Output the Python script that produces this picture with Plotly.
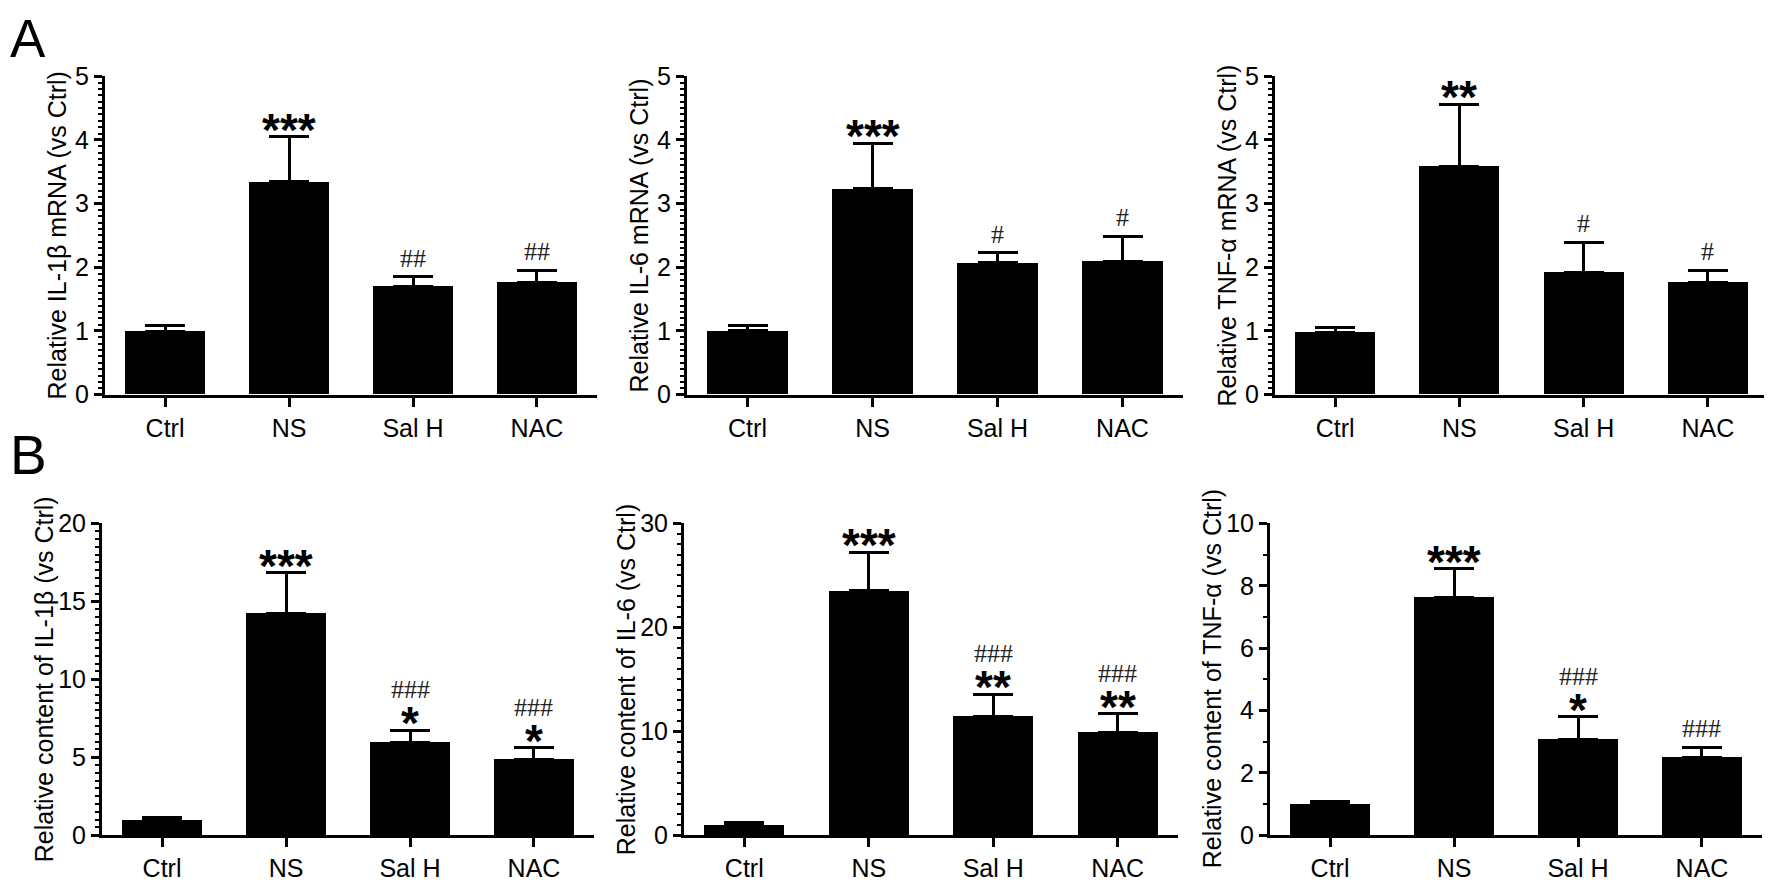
import plotly.graph_objects as go

# the page body keeps its default 8px margin, so the figure is drawn 8px in
OFF = 8
FW, FH = 1772 - OFF, 883 - OFF

groups = ["Ctrl", "NS", "Sal H", "NAC"]

# panel A: relative mRNA (vs Ctrl)
il1b_mrna = [0.99, 3.34, 1.70, 1.76]
il1b_mrna_sem = [0.10, 0.71, 0.15, 0.19]
il6_mrna = [1.00, 3.23, 2.07, 2.09]
il6_mrna_sem = [0.08, 0.72, 0.16, 0.40]
tnfa_mrna = [0.98, 3.59, 1.92, 1.76]
tnfa_mrna_sem = [0.07, 0.97, 0.47, 0.19]

# panel B: relative content (vs Ctrl)
il1b_content = [0.95, 14.2, 5.97, 4.87]
il1b_content_sem = [0.21, 2.65, 0.77, 0.75]
il6_content = [0.96, 23.5, 11.38, 9.88]
il6_content_sem = [0.22, 3.73, 2.17, 1.81]
tnfa_content = [0.99, 7.62, 3.08, 2.49]
tnfa_content_sem = [0.08, 0.93, 0.71, 0.33]

# significance marks (* vs Ctrl, # vs NS)
il1b_mrna_stars = ["", "***", "", ""]
il1b_mrna_hash = ["", "", "##", "##"]
il6_mrna_stars = ["", "***", "", ""]
il6_mrna_hash = ["", "", "#", "#"]
tnfa_mrna_stars = ["", "**", "", ""]
tnfa_mrna_hash = ["", "", "#", "#"]
il1b_content_stars = ["", "***", "*", "*"]
il1b_content_hash = ["", "", "###", "###"]
il6_content_stars = ["", "***", "**", "**"]
il6_content_hash = ["", "", "###", "###"]
tnfa_content_stars = ["", "***", "*", ""]
tnfa_content_hash = ["", "", "###", "###"]

panels = [
    dict(y=il1b_mrna, e=il1b_mrna_sem, s=il1b_mrna_stars, h=il1b_mrna_hash,
         title="Relative IL-1β mRNA (vs Ctrl)", top=5, dt=1, mdt=0.1),
    dict(y=il6_mrna, e=il6_mrna_sem, s=il6_mrna_stars, h=il6_mrna_hash,
         title="Relative IL-6 mRNA (vs Ctrl)", top=5, dt=1, mdt=0.1),
    dict(y=tnfa_mrna, e=tnfa_mrna_sem, s=tnfa_mrna_stars, h=tnfa_mrna_hash,
         title="Relative TNF-α mRNA (vs Ctrl)", top=5, dt=1, mdt=0.1),
    dict(y=il1b_content, e=il1b_content_sem, s=il1b_content_stars, h=il1b_content_hash,
         title="Relative content of IL-1β (vs Ctrl)", top=20, dt=5, mdt=0.5),
    dict(y=il6_content, e=il6_content_sem, s=il6_content_stars, h=il6_content_hash,
         title="Relative content of IL-6 (vs Ctrl)", top=30, dt=10, mdt=1),
    dict(y=tnfa_content, e=tnfa_content_sem, s=tnfa_content_stars, h=tnfa_content_hash,
         title="Relative content of TNF-α (vs Ctrl)", top=10, dt=2, mdt=1),
]

# plot areas in page pixels: (left, right, bottom, top)
boxes = [
    (105, 597, 393, 64), (687, 1183, 393, 64), (1275, 1768, 393, 64),
    (102, 594, 848, 526), (684, 1178, 848, 526), (1270, 1762, 848, 526),
]


def px(x):
    return (x - OFF) / FW


def py(y):
    return 1 - (y - OFF) / FH


FONT = "Liberation Sans, Arial, sans-serif"
SERIF = "Liberation Serif, Times New Roman, serif"
fig = go.Figure()
annotations = []
layout = {}

for i, (p, (l, r, b, t)) in enumerate(zip(panels, boxes)):
    n = "" if i == 0 else str(i + 1)
    fig.add_trace(go.Bar(
        x=groups, y=p["y"], xaxis="x" + n, yaxis="y" + n,
        width=0.645, marker=dict(color="black", line=dict(width=0)),
        error_y=dict(type="data", array=p["e"], arrayminus=[0] * 4, symmetric=False,
                     color="black", thickness=3, width=20),
        showlegend=False,
    ))
    layout["xaxis" + n] = dict(
        domain=[px(l), min(px(r), 1)], anchor="y" + n, type="category",
        range=[-0.484, 3.484], showline=True, linecolor="black", linewidth=3,
        ticks="outside", ticklen=9, tickwidth=2.5, tickcolor="black",
        tickfont=dict(family=FONT, size=25, color="black"), showgrid=False, zeroline=False,
    )
    layout["yaxis" + n] = dict(
        domain=[py(b), py(t)], anchor="x" + n, range=[0, p["top"]],
        dtick=p["dt"], showline=True, linecolor="black", linewidth=3,
        ticks="outside", ticklen=8, tickwidth=2.5, tickcolor="black",
        minor=dict(dtick=p["mdt"], ticks="outside", ticklen=4, tickwidth=1.5, tickcolor="black"),
        tickfont=dict(family=FONT, size=25, color="black"), showgrid=False, zeroline=False,
    )
    off = 48 if i < 3 else 58
    annotations.append(dict(
        text=p["title"], textangle=-90, xref="paper", yref="paper",
        x=px(l - off), y=py((b + t) / 2), showarrow=False,
        xanchor="center", yanchor="middle", font=dict(family=FONT, size=25, color="black"),
    ))
    for g, v, e, s, h in zip(groups, p["y"], p["e"], p["s"], p["h"]):
        shift = 2
        if s:
            annotations.append(dict(
                text="<b>" + s + "</b>", x=g, y=v + e, xref="x" + n, yref="y" + n,
                showarrow=False, xanchor="center", yanchor="bottom", yshift=-21,
                font=dict(family=FONT, size=46, color="black"),
            ))
            shift = 24
        if h:
            annotations.append(dict(
                text=h, x=g, y=v + e, xref="x" + n, yref="y" + n, showarrow=False,
                xanchor="center", yanchor="bottom", yshift=shift,
                font=dict(family=SERIF, size=26, color="#222"),
            ))

for lab, top, size in [("A", -8, 53), ("B", 421, 55)]:
    annotations.append(dict(
        text=lab, xref="paper", yref="paper", x=0, y=py(top), showarrow=False,
        xanchor="left", yanchor="top", font=dict(family=FONT, size=size, color="black"),
    ))

fig.update_layout(
    width=FW, height=FH, margin=dict(l=0, r=0, t=0, b=0),
    paper_bgcolor="white", plot_bgcolor="white", bargap=0,
    annotations=annotations, **layout,
)

fig.write_html("out.html")
